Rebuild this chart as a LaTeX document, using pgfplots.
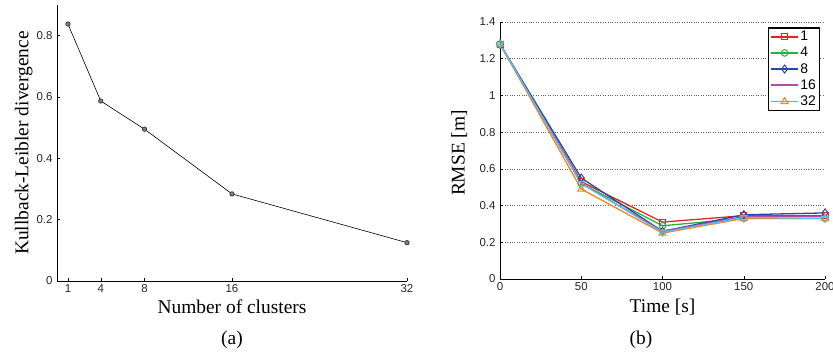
\documentclass[border=0pt]{standalone}
\usepackage{pgfplots}
\pgfplotsset{compat=1.18}
\usepackage{fontspec}
\setmainfont{Liberation Serif}
\newfontfamily\hv{Liberation Sans}
\definecolor{cR}{RGB}{230,35,35}
\definecolor{cG}{RGB}{35,180,60}
\definecolor{cB}{RGB}{40,70,170}
\definecolor{cM}{RGB}{180,75,170}
\definecolor{cO}{RGB}{250,130,35}
\definecolor{cC}{RGB}{90,190,225}
\begin{document}
\begin{tikzpicture}
\useasboundingbox (0,0) rectangle (833bp,352bp);
% ---------- (a) ----------
\begin{axis}[
  at={(57bp,71bp)}, anchor=south west,
  scale only axis, width=350bp, height=276bp,
  xmin=0, xmax=32, ymin=0, ymax=0.9,
  axis x line*=bottom, axis y line*=left,
  axis line style={black, line width=0.6pt},
  xtick={1,4,8,16,32}, ytick={0,0.2,0.4,0.6,0.8},
  tick align=inside, major tick length=3bp,
  tick style={black, line width=0.5pt},
  /pgf/number format/assume math mode=true,
  tick label style={font=\hv\fontsize{11.5}{11.5}\selectfont, text=black!85},
  yticklabel style={/pgf/number format/fixed, /pgf/number format/precision=1, xshift=-1bp},
  xlabel={Number of clusters}, ylabel={Kullback-Leibler divergence},
  label style={font=\fontsize{19.5}{19.5}\selectfont},
  xlabel style={at={(axis description cs:0.5,-0.055)}, anchor=north},
  ylabel style={at={(axis description cs:-0.06,0.5)}, anchor=south},
  clip=false,
]
\addplot[black, line width=0.6pt, mark=*, mark size=2.2bp,
  mark options={fill=gray, draw=black!80, line width=0.7pt}]
  coordinates {(1,0.838) (4,0.587) (8,0.495) (16,0.284) (32,0.125)};
\end{axis}
\node[font=\fontsize{19.5}{19.5}\selectfont] at (232bp,12bp) {(a)};
% ---------- (b) ----------
\begin{axis}[
  at={(500bp,73bp)}, anchor=south west,
  scale only axis, width=325bp, height=257bp,
  xmin=0, xmax=200, ymin=0, ymax=1.4,
  axis x line*=bottom, axis y line*=left,
  axis line style={black, line width=0.8pt},
  xtick={0,50,100,150,200}, ytick={0,0.2,0.4,0.6,0.8,1,1.2,1.4},
  tick align=inside, major tick length=3bp,
  tick style={black, line width=0.5pt},
  ymajorgrids, grid style={black!60, dotted, line width=0.5pt},
  /pgf/number format/assume math mode=true,
  tick label style={font=\hv\fontsize{11.5}{11.5}\selectfont, text=black!85},
  yticklabel style={/pgf/number format/fixed, /pgf/number format/precision=1, xshift=-1bp},
  xlabel={Time [s]}, ylabel={RMSE [m]},
  label style={font=\fontsize{19.5}{19.5}\selectfont},
  xlabel style={at={(axis description cs:0.5,-0.065)}, anchor=north},
  ylabel style={at={(axis description cs:-0.09,0.49)}, anchor=south},
  legend style={at={(rel axis cs:0.985,0.98)}, anchor=north east,
    draw=black, line width=1.4pt, fill=white,
    font=\hv\fontsize{14}{14}\selectfont, inner sep=2pt,
    row sep=2pt, nodes={inner sep=1.5pt}},
  legend cell align=left,
  legend image code/.code={%
    \draw[mark repeat=2, mark phase=2, line width=1.7pt]
      plot coordinates {(0bp,0bp) (13.5bp,0bp) (27bp,0bp)};},
  clip=false,
]
\addplot[cR, line width=1.3pt, mark=square, mark size=3bp, mark options={solid, line width=1pt}]
  coordinates {(0,1.28) (50,0.53) (100,0.31) (150,0.345) (200,0.345)};
\addlegendentry{1}
\addplot[cG, line width=1.3pt, mark=o, mark size=3.3bp, mark options={solid, line width=1pt}]
  coordinates {(0,1.28) (50,0.52) (100,0.29) (150,0.33) (200,0.33)};
\addlegendentry{4}
\addplot[cB, line width=1.3pt, mark=diamond, mark size=4bp, mark options={solid, line width=1pt}]
  coordinates {(0,1.28) (50,0.55) (100,0.26) (150,0.35) (200,0.36)};
\addlegendentry{8}
\addplot[cM, line width=1.3pt]
  coordinates {(0,1.28) (50,0.52) (100,0.26) (150,0.34) (200,0.34)};
\addlegendentry{16}
\addplot[cO, line width=1.3pt, mark=triangle, mark size=4bp, mark options={solid, line width=1pt}]
  coordinates {(0,1.28) (50,0.49) (100,0.25) (150,0.33) (200,0.33)};
\addlegendentry{32}
\addplot[cC, line width=1.3pt, mark=triangle, mark size=4bp, mark options={solid, line width=1pt, rotate=180}, forget plot]
  coordinates {(0,1.28) (50,0.52) (100,0.255) (150,0.335) (200,0.33)};
\end{axis}
\node[font=\fontsize{19.5}{19.5}\selectfont] at (641bp,12bp) {(b)};
\end{tikzpicture}
\end{document}
